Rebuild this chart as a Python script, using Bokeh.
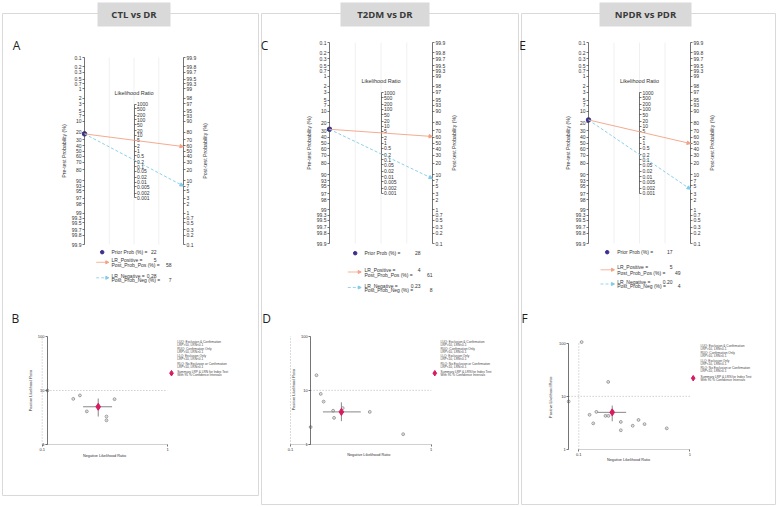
import math

from bokeh.core.properties import value
from bokeh.embed import file_html
from bokeh.models import (Arrow, CustomJSTickFormatter, FixedTicker, LinearAxis,
                          LogAxis, LogScale, NormalHead, Range1d)
from bokeh.plotting import figure
from bokeh.resources import INLINE

W, H = 778, 507
FONT = "Liberation Sans"

# ---------------------------------------------------------------- data
comparisons = ["CTL vs DR", "T2DM vs DR", "NPDR vs PDR"]
fagan_letters = ["A", "C", "E"]
scatter_letters = ["B", "D", "F"]

prior_prob = [22, 28, 17]
lr_positive = [5, 4, 5]
post_prob_pos = [58, 61, 49]
lr_negative = [0.28, 0.23, 0.20]
post_prob_neg = [7, 8, 4]

pre_prob_ticks = [0.1, 0.2, 0.3, 0.5, 0.7, 1, 2, 3, 5, 7, 10, 20, 30, 40, 50, 60,
                  70, 80, 90, 93, 95, 97, 98, 99, 99.3, 99.5, 99.7, 99.8, 99.9]
post_prob_ticks = [99.9, 99.8, 99.7, 99.5, 99.3, 99, 98, 97, 95, 93, 90, 80, 70, 60,
                   50, 40, 30, 20, 10, 7, 5, 3, 2, 1, 0.7, 0.5, 0.3, 0.2, 0.1]
lr_ticks = [1000, 500, 200, 100, 50, 20, 10, 5, 2, 1, 0.5, 0.2, 0.1, 0.05, 0.02,
            0.01, 0.005, 0.002, 0.001]

# study-level likelihood ratios (negative, positive)
ctl_lrn = [0.11, 0.177, 0.200, 0.378, 0.227, 0.326, 0.326]
ctl_lrp = [10.0, 7.0, 8.1, 6.9, 4.1, 3.3, 2.8]
t2dm_lrn = [0.153, 0.164, 0.172, 0.201, 0.204, 0.139, 0.235, 0.366, 0.632]
t2dm_lrp = [19.0, 8.6, 6.2, 4.2, 3.1, 2.1, 4.7, 4.0, 1.55]
npdr_lrn = [0.106, 0.184, 0.081, 0.125, 0.144, 0.135, 0.174, 0.185, 0.239, 0.239,
            0.306, 0.345, 0.391, 0.62]
npdr_lrp = [105, 18.7, 8.0, 4.5, 5.1, 3.1, 4.3, 4.3, 3.3, 2.3, 2.8, 3.6, 3.0, 2.5]
study_lrn = [ctl_lrn, t2dm_lrn, npdr_lrn]
study_lrp = [ctl_lrp, t2dm_lrp, npdr_lrp]

summary_lrn_ci = [(0.212, 0.361), (0.170, 0.316), (0.149, 0.267)]
summary_lrp_ci = [(3.3, 7.1), (2.7, 6.0), (3.4, 6.7)]

lrp_threshold = 10
lrn_threshold = 0.1
scatter_y_ticks = [1, 10, 100]
scatter_x_ticks = [0.1, 1]

quadrant_notes = ["LUQ: Exclusion & Confirmation", "LRP>10, LRN<0.1",
                  "RUQ: Confirmation Only", "LRP>10, LRN>0.1",
                  "LLQ: Exclusion Only", "LRP<10, LRN<0.1",
                  "RLQ: No Exclusion or Confirmation", "LRP<10, LRN>0.1",
                  "Summary LRP & LRN for Index Test", "With 95 % Confidence Intervals"]

# ---------------------------------------------------------------- layout (pixels)
column_boxes = [(2, 258, 13, 495), (261, 518, 13, 504), (521, 775, 13, 504)]
header_boxes = [(97, 170), (340, 429), (599, 691)]
fagan_letter_xy = [(16, 45), (264, 45), (522, 45)]
scatter_letter_xy = [(15, 318), (266, 318), (524, 318)]

fagan_frame = [dict(left=84, right=183, top=57, bottom=244),
               dict(left=329, right=432, top=42, bottom=243),
               dict(left=588, right=690, top=42, bottom=243)]
fagan_key = [dict(mx=101.7, tx=111, ys=[251.7, 259.3, 264.3, 275.3, 279.3],
                  ax=(95.7, 108.3), ay=(261.8, 277.3), vx=(156, 171)),
             dict(mx=354.7, tx=364, ys=[252.7, 269.3, 274, 285, 289.3],
                  ax=(347.3, 360.7), ay=(271.5, 287), vx=(420, 432)),
             dict(mx=606.7, tx=616.7, ys=[251.7, 266.7, 272, 281.3, 285.7],
                  ax=(600, 614), ay=(269.3, 283.5), vx=(672, 680))]

# pixel positions of x=0.1, x=1, y=1, y=100 for each scattergram
scatter_frame = [dict(x01=41.7, x1=167, y1=444, y100=336),
                 dict(x01=290, x1=430.7, y1=444, y100=335.7),
                 dict(x01=578.3, x1=689.3, y1=449, y100=342.7)]
scatter_ytitle = [(30.7, 390), (293.3, 389), (550.7, 396.7)]
scatter_xtitle = [(104, 455.3), (368.3, 454.7), (628, 459.3)]
note_anchor = [(176.7, 341, 171, 372.7), (440, 341, 434.3, 372.7),
               (700, 345.7, 692.7, 377.7)]
note_offsets = [0, 2.9, 7, 10, 14.7, 17.7, 22, 25, 30.7, 33.7]

POS = "#F2A283"
NEG = "#7FCBEA"
PRIOR = "#3F2D8F"
SUMMARY = "#D81B60"
INK = "#333333"


def logit(pct):
    q = pct / 100.0
    return math.log(q / (1.0 - q))


LIM = logit(99.9)


def mapped_range(va, pa, vb, pb, p_lo, p_hi, log=False):
    """Range whose ends sit at pixels p_lo/p_hi, given va at pa and vb at pb."""
    if log:
        va, vb = math.log10(va), math.log10(vb)
    k = (vb - va) / (pb - pa)
    lo = va + (p_lo - pa) * k
    hi = va + (p_hi - pa) * k
    if log:
        lo, hi = 10 ** lo, 10 ** hi
    return Range1d(start=lo, end=hi)


def style_axis(ax, size="5px"):
    ax.axis_line_color = "#3a3a3a"
    ax.axis_line_width = 0.7
    ax.major_tick_line_color = "#3a3a3a"
    ax.major_tick_line_width = 0.7
    ax.major_tick_out = 2
    ax.major_tick_in = 0
    ax.minor_tick_line_color = None
    ax.major_label_text_font = FONT
    ax.major_label_text_font_size = size
    ax.major_label_text_color = INK
    ax.major_label_standoff = 1


def words(p, xs, ys, texts, size, align="left", angle=0.0, color=INK,
          style="normal", font=FONT, **kw):
    p.text(x=xs, y=ys, text=texts, angle=angle, text_font=value(font),
           text_font_size=size, text_align=align, text_baseline="middle",
           text_color=color, text_font_style=style, **kw)


p = figure(width=W, height=H, x_range=Range1d(0, W), y_range=Range1d(H, 0),
           output_backend="svg", toolbar_location=None,
           x_axis_location=None, y_axis_location=None, min_border=0)
p.outline_line_color = None
p.background_fill_color = "white"
p.border_fill_color = "white"
for g in p.grid:
    g.visible = False

# column frames and header tabs
p.quad(left=[b[0] for b in column_boxes], right=[b[1] for b in column_boxes],
       top=[b[2] for b in column_boxes], bottom=[b[3] for b in column_boxes],
       fill_color=None, line_color="#d9d9d9", line_width=1)
p.quad(left=[h[0] for h in header_boxes], right=[h[1] for h in header_boxes],
       top=[2] * 3, bottom=[26] * 3, fill_color="#d9d9d9", line_color=None)
words(p, [(h[0] + h[1]) / 2 for h in header_boxes], [14] * 3, comparisons,
      "9.5px", align="center", style="bold", font="Open Sans", color="#3a3a3a")
words(p, [xy[0] for xy in fagan_letter_xy], [xy[1] for xy in fagan_letter_xy],
      fagan_letters, "12px", align="center", font="Open Sans", color="#1e1e1e")
words(p, [xy[0] for xy in scatter_letter_xy], [xy[1] for xy in scatter_letter_xy],
      scatter_letters, "12px", align="center", font="Open Sans", color="#1e1e1e")

for i in range(3):
    # ------------------------------------------------ Fagan nomogram
    g = fagan_frame[i]
    fx, fy = f"fagan_x{i}", f"fagan_y{i}"
    p.extra_x_ranges[fx] = mapped_range(-1, g["left"], 1, g["right"], 0, W)
    p.extra_y_ranges[fy] = mapped_range(-LIM, g["bottom"], LIM, g["top"], H, 0)
    fk = dict(x_range_name=fx, y_range_name=fy)

    guides = [-0.5, 0.0, 0.5]
    p.segment(x0=guides, y0=[-LIM] * 3, x1=guides, y1=[LIM] * 3,
              line_color="#ececec", line_width=0.8, **fk)

    left = LinearAxis(fixed_location=-1, bounds=(-LIM, LIM),
                      ticker=FixedTicker(ticks=[-logit(v) for v in pre_prob_ticks]),
                      formatter=CustomJSTickFormatter(
                          code="return String(Math.round(1000/(1+Math.exp(tick)))/10)"),
                      **fk)
    right = LinearAxis(fixed_location=1, bounds=(-LIM, LIM),
                       ticker=FixedTicker(ticks=[logit(v) for v in post_prob_ticks]),
                       formatter=CustomJSTickFormatter(
                           code="return String(Math.round(1000/(1+Math.exp(-tick)))/10)"),
                       **fk)
    lr_lim = math.log(max(lr_ticks)) / 2
    middle = LinearAxis(fixed_location=0, bounds=(-lr_lim, lr_lim),
                        ticker=FixedTicker(ticks=[math.log(v) / 2 for v in lr_ticks]),
                        formatter=CustomJSTickFormatter(
                            code="const v = Math.exp(2*tick); return String(Math.round(v*1000)/1000)"),
                        **fk)
    for ax in (left, right, middle):
        style_axis(ax)
    p.add_layout(left, "left")
    p.add_layout(right, "right")
    p.add_layout(middle, "right")

    words(p, [0], [lr_lim + 0.8], ["Likelihood Ratio"], "5.5px", align="center", **fk)
    yc = (g["top"] + g["bottom"]) / 2
    words(p, [g["left"] - 21], [yc], ["Pre-test Probability (%)"], "5.2px",
          align="center", angle=math.pi / 2)
    words(p, [g["right"] + 21], [yc], ["Post-test Probability (%)"], "5.2px",
          align="center", angle=math.pi / 2)

    y_pre = -logit(prior_prob[i])
    p.add_layout(Arrow(x_start=-1, y_start=y_pre, x_end=1, y_end=logit(post_prob_pos[i]),
                       line_color=POS, line_width=0.9,
                       end=NormalHead(size=3.5, fill_color=POS, line_color=POS), **fk))
    p.add_layout(Arrow(x_start=-1, y_start=y_pre, x_end=1, y_end=logit(post_prob_neg[i]),
                       line_color=NEG, line_width=0.9, line_dash="3 2",
                       end=NormalHead(size=3.5, fill_color=NEG, line_color=NEG), **fk))
    p.scatter(x=[-1], y=[y_pre], marker="circle", size=4.5, fill_color=PRIOR,
              line_color=PRIOR, **fk)

    # key under the nomogram
    k = fagan_key[i]
    p.scatter(x=[k["mx"]], y=[k["ys"][0]], marker="circle", size=3.5,
              fill_color=PRIOR, line_color=PRIOR)
    for ay, col, dash in ((k["ay"][0], POS, "solid"), (k["ay"][1], NEG, "3 2")):
        p.add_layout(Arrow(x_start=k["ax"][0], y_start=ay, x_end=k["ax"][1], y_end=ay,
                           line_color=col, line_width=0.8, line_dash=dash,
                           end=NormalHead(size=3, fill_color=col, line_color=col)))
    words(p, [k["tx"]] * 5, k["ys"],
          ["Prior Prob (%) =", "LR_Positive =", "Post_Prob_Pos (%) =",
           "LR_Negative =", "Post_Prob_Neg (%) ="], "5px")
    words(p, [k["vx"][0], k["vx"][0], k["vx"][1], k["vx"][0], k["vx"][1]], k["ys"],
          [f"{prior_prob[i]}", f"{lr_positive[i]:g}", f"{post_prob_pos[i]}",
           f"{lr_negative[i]:.2f}", f"{post_prob_neg[i]}"], "5px", align="right")

    # ------------------------------------------------ LR scattergram
    s = scatter_frame[i]
    sx, sy = f"lr_x{i}", f"lr_y{i}"
    p.extra_x_ranges[sx] = mapped_range(0.1, s["x01"], 1, s["x1"], 0, W, log=True)
    p.extra_y_ranges[sy] = mapped_range(1, s["y1"], 100, s["y100"], H, 0, log=True)
    p.extra_x_scales[sx] = LogScale()
    p.extra_y_scales[sy] = LogScale()
    sk = dict(x_range_name=sx, y_range_name=sy)

    x_start = min(study_lrn[i])
    p.segment(x0=[x_start], y0=[lrp_threshold], x1=[1], y1=[lrp_threshold],
              line_color="#9a9a9a", line_width=0.7, line_dash="1 2", **sk)
    p.segment(x0=[lrn_threshold], y0=[1], x1=[lrn_threshold], y1=[100],
              line_color="#9a9a9a", line_width=0.7, line_dash="1 2", **sk)

    yax = LogAxis(fixed_location=x_start, bounds=(1, 100),
                  ticker=FixedTicker(ticks=scatter_y_ticks),
                  formatter=CustomJSTickFormatter(code="return String(tick)"), **sk)
    xax = LogAxis(fixed_location=1, bounds=(0.1, 1),
                  ticker=FixedTicker(ticks=scatter_x_ticks),
                  formatter=CustomJSTickFormatter(code="return String(tick)"), **sk)
    for ax in (yax, xax):
        style_axis(ax, "4px")
    xax.axis_line_color = "#bbbbbb"
    p.add_layout(yax, "left")
    p.add_layout(xax, "below")

    words(p, [scatter_ytitle[i][0]], [scatter_ytitle[i][1]], ["Positive Likelihood Ratio"],
          "3.8px", align="center", angle=math.pi / 2)
    words(p, [scatter_xtitle[i][0]], [scatter_xtitle[i][1]], ["Negative Likelihood Ratio"],
          "3.8px", align="center")

    p.scatter(x=study_lrn[i], y=study_lrp[i], marker="circle_dot", size=2.8,
              fill_color="white", line_color="#5a5a5a", line_width=0.6, **sk)
    lo, hi = summary_lrn_ci[i]
    p.segment(x0=[lo], y0=[lr_positive[i]], x1=[hi], y1=[lr_positive[i]],
              line_color="#7a7a7a", line_width=0.9, **sk)
    lo, hi = summary_lrp_ci[i]
    p.segment(x0=[lr_negative[i]], y0=[lo], x1=[lr_negative[i]], y1=[hi],
              line_color="#7a7a7a", line_width=0.9, **sk)
    p.scatter(x=[lr_negative[i]], y=[lr_positive[i]], marker="diamond", size=7,
              fill_color=SUMMARY, line_color=SUMMARY, **sk)

    tx, ty, dx, dy = note_anchor[i]
    words(p, [tx] * len(quadrant_notes), [ty + o for o in note_offsets],
          quadrant_notes, "3.2px", color="#444444")
    p.scatter(x=[dx], y=[dy], marker="diamond", size=5.5, fill_color=SUMMARY,
              line_color=SUMMARY)

open("out.html", "w").write(file_html(p, INLINE))
